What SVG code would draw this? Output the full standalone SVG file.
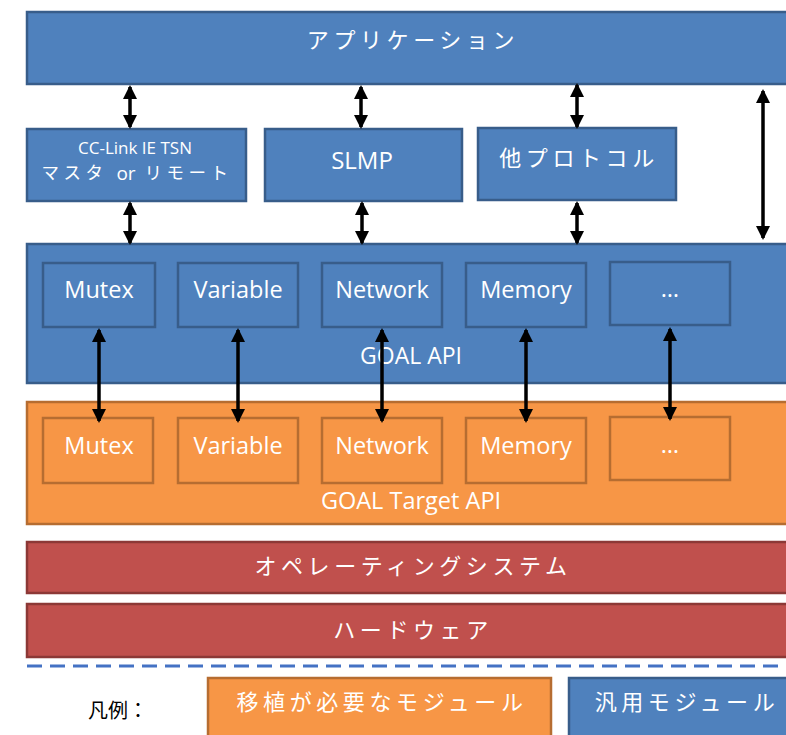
<svg xmlns="http://www.w3.org/2000/svg" width="786" height="735" viewBox="0 0 786 735">
<style>
.blue{fill:#4F81BD;stroke:#385D8A;stroke-width:2.5}
.orange{fill:#F79646;stroke:#B66D31;stroke-width:2.5}
.red{fill:#C0504D;stroke:#8C3836;stroke-width:2.5}
.jp{font-family:"Liberation Serif","Noto Sans CJK JP",serif;fill:#fff;font-size:22px;letter-spacing:4.6px;text-anchor:middle;dominant-baseline:central}
.en{font-family:"Open Sans","Liberation Sans",sans-serif;fill:#fff;font-size:23.5px;text-anchor:middle;dominant-baseline:central}
.arr{stroke:#000;stroke-width:3.5;fill:none;marker-start:url(#ah);marker-end:url(#ah)}
</style>
<defs>
<marker id="ah" viewBox="0 0 14 14" refX="12" refY="7" markerWidth="14" markerHeight="14" markerUnits="userSpaceOnUse" orient="auto-start-reverse">
<path d="M0,0 L14,7 L0,14 Z" fill="#000"/>
</marker>
</defs>
<rect width="786" height="735" fill="#fff"/>

<g id="application">
<rect class="blue" x="27" y="12" width="780" height="72"/>
<text class="jp" x="413" y="40">アプリケーション</text>
</g>

<g id="cclink">
<rect class="blue" x="27" y="129" width="219" height="72"/>
<text class="en" x="135" y="147" style="font-size:17px">CC-Link IE TSN</text>
<text class="jp" x="137" y="173" style="font-size:17.5px;letter-spacing:4.5px">マスタ <tspan style="font-family:'Open Sans',sans-serif;letter-spacing:0;font-size:19px">or</tspan> リモート</text>
</g>

<g id="slmp">
<rect class="blue" x="265" y="129" width="197" height="72"/>
<text class="en" x="362" y="159" style="font-size:24px">SLMP</text>
</g>

<g id="other-protocol">
<rect class="blue" x="478" y="128" width="198" height="72"/>
<text class="jp" x="579" y="158">他プロトコル</text>
</g>

<g id="goal-api">
<rect class="blue" x="27" y="244" width="780" height="139"/>
<text class="en" x="411" y="355" style="font-size:23px">GOAL API</text>
</g>
<g id="api-mutex"><rect class="blue" x="43" y="263" width="112" height="64"/><text class="en" x="99" y="289">Mutex</text></g>
<g id="api-variable"><rect class="blue" x="178" y="263" width="120" height="64"/><text class="en" x="238" y="289">Variable</text></g>
<g id="api-network"><rect class="blue" x="322" y="263" width="120" height="64"/><text class="en" x="382" y="289">Network</text></g>
<g id="api-memory"><rect class="blue" x="466" y="263" width="120" height="64"/><text class="en" x="526" y="289">Memory</text></g>
<g id="api-more"><rect class="blue" x="610" y="262" width="120" height="63"/><text class="en" x="670" y="288">…</text></g>

<g id="goal-target-api">
<rect class="orange" x="27" y="402" width="780" height="122"/>
<text class="en" x="411" y="500" style="font-size:23.5px">GOAL Target API</text>
</g>
<g id="tgt-mutex"><rect class="orange" x="43" y="418" width="110" height="65"/><text class="en" x="99" y="445">Mutex</text></g>
<g id="tgt-variable"><rect class="orange" x="178" y="418" width="120" height="65"/><text class="en" x="238" y="445">Variable</text></g>
<g id="tgt-network"><rect class="orange" x="322" y="418" width="120" height="65"/><text class="en" x="382" y="445">Network</text></g>
<g id="tgt-memory"><rect class="orange" x="466" y="418" width="120" height="65"/><text class="en" x="526" y="445">Memory</text></g>
<g id="tgt-more"><rect class="orange" x="610" y="417" width="120" height="63"/><text class="en" x="670" y="444">…</text></g>

<g id="os">
<rect class="red" x="27" y="542" width="780" height="51"/>
<text class="jp" x="413" y="566">オペレーティングシステム</text>
</g>
<g id="hardware">
<rect class="red" x="27" y="604" width="780" height="53"/>
<text class="jp" x="413" y="630">ハードウェア</text>
</g>

<line x1="27" y1="666" x2="786" y2="666" stroke="#4472C4" stroke-width="3" stroke-dasharray="15,8"/>

<g id="legend">
<text x="88" y="711" style="font-family:'Liberation Serif','Noto Sans CJK JP',serif;font-size:20px;fill:#000;dominant-baseline:central">凡例：</text>
<g id="legend-port"><rect class="orange" x="208" y="678" width="343" height="70"/><text class="jp" x="382" y="702">移植が必要なモジュール</text></g>
<g id="legend-generic"><rect class="blue" x="569" y="678" width="240" height="70"/><text class="jp" x="687" y="702">汎用モジュール</text></g>
</g>

<g id="connectors">
<line class="arr" x1="130" y1="87" x2="130" y2="127"/>
<line class="arr" x1="361" y1="87" x2="361" y2="127"/>
<line class="arr" x1="577" y1="85" x2="577" y2="127"/>
<line class="arr" x1="763" y1="91" x2="763" y2="238"/>
<line class="arr" x1="130" y1="203" x2="130" y2="243"/>
<line class="arr" x1="362" y1="203" x2="362" y2="243"/>
<line class="arr" x1="577" y1="203" x2="577" y2="243"/>
<line class="arr" x1="99" y1="330" x2="99" y2="421"/>
<line class="arr" x1="238" y1="330" x2="238" y2="421"/>
<line class="arr" x1="382" y1="330" x2="382" y2="421"/>
<line class="arr" x1="526" y1="330" x2="526" y2="421"/>
<line class="arr" x1="670" y1="329" x2="670" y2="419"/>
</g>
</svg>
